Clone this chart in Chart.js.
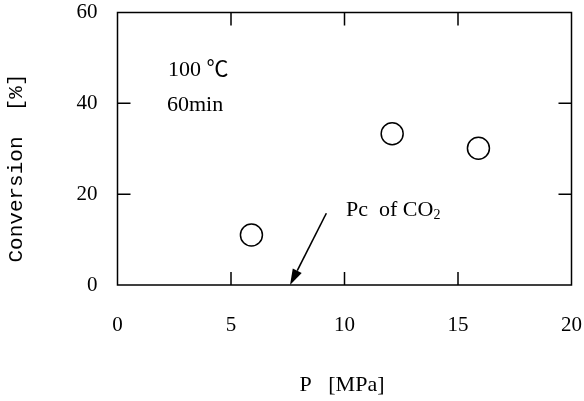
<!DOCTYPE html>
<html>
<head>
<meta charset="utf-8">
<script src="https://cdn.jsdelivr.net/npm/chart.js@4.4.0/dist/chart.umd.min.js"></script>
<style>
  html, body { margin: 0; padding: 0; background: #fff; }
  #wrap { width: 584px; height: 401px; }
</style>
</head>
<body>
<div id="wrap"><canvas id="c" width="584" height="401"></canvas></div>
<script>
// ---- data ----
const pressureMPa = [5.9, 12.1, 15.9];
const conversionPct = [11.0, 33.3, 30.1];
const xTickValues = [0, 5, 10, 15, 20];
const yTickValues = [0, 20, 40, 60];
const xLabel = 'P   [MPa]';
const yLabel = 'Conversion  [%]';
const conditionText = ['100 ℃', '60min'];
const pcLabel = 'Pc  of CO';
const pcCO2 = 7.6;          // arrow tip (MPa), on x axis
const pcArrowTail = [9.2, 15.8];

const BLACK = '#000';
const SERIF = '"Liberation Serif", "Times New Roman", "Noto Sans CJK JP", serif';

const decor = {
  id: 'decor',
  afterDraw(chart) {
    const ctx = chart.ctx;
    const a = chart.chartArea;
    const xs = chart.scales.x, ys = chart.scales.y;
    ctx.save();
    ctx.strokeStyle = BLACK;
    ctx.fillStyle = BLACK;
    ctx.lineWidth = 1.5;
    // frame
    ctx.strokeRect(a.left, a.top, a.right - a.left, a.bottom - a.top);
    // inward ticks
    const tl = 13;
    ctx.beginPath();
    xTickValues.slice(1, -1).forEach(v => {
      const px = xs.getPixelForValue(v);
      ctx.moveTo(px, a.bottom); ctx.lineTo(px, a.bottom - tl);
      ctx.moveTo(px, a.top); ctx.lineTo(px, a.top + tl);
    });
    yTickValues.slice(1, -1).forEach(v => {
      const py = ys.getPixelForValue(v);
      ctx.moveTo(a.left, py); ctx.lineTo(a.left + tl, py);
      ctx.moveTo(a.right, py); ctx.lineTo(a.right - tl, py);
    });
    ctx.stroke();

    // condition text
    ctx.font = '22px ' + SERIF;
    ctx.textAlign = 'left';
    ctx.textBaseline = 'middle';
    ctx.fillText(conditionText[0], 168, 70);
    ctx.fillText(conditionText[1], 167, 105);

    // Pc of CO2 label
    ctx.font = '22px ' + SERIF;
    ctx.fillText(pcLabel, 346, 210);
    const w = ctx.measureText(pcLabel).width;
    ctx.font = '14px ' + SERIF;
    ctx.fillText('2', 346 + w, 215);

    // arrow
    const x1 = xs.getPixelForValue(pcArrowTail[0]), y1 = ys.getPixelForValue(pcArrowTail[1]);
    const x2 = xs.getPixelForValue(pcCO2), y2 = ys.getPixelForValue(0);
    const ang = Math.atan2(y2 - y1, x2 - x1);
    const hl = 16, hw = 5;
    const bx = x2 - hl * Math.cos(ang), by = y2 - hl * Math.sin(ang);
    ctx.lineWidth = 1.6;
    ctx.beginPath();
    ctx.moveTo(x1, y1); ctx.lineTo(bx, by); ctx.stroke();
    ctx.beginPath();
    ctx.moveTo(x2, y2);
    ctx.lineTo(bx + hw * Math.sin(ang), by - hw * Math.cos(ang));
    ctx.lineTo(bx - hw * Math.sin(ang), by + hw * Math.cos(ang));
    ctx.closePath();
    ctx.fill();

    // axis titles
    ctx.font = '22px ' + SERIF;
    ctx.textAlign = 'center';
    ctx.textBaseline = 'middle';
    ctx.fillText(xLabel, 342, 385);
    ctx.save();
    ctx.translate(16, 168);
    ctx.rotate(-Math.PI / 2);
    ctx.font = '21px "Liberation Mono", "Courier New", monospace';
    ctx.fillText(yLabel, 0, 0);
    ctx.restore();
    ctx.restore();
  }
};

new Chart(document.getElementById('c'), {
  type: 'scatter',
  data: {
    datasets: [{
      data: pressureMPa.map((x, i) => ({ x, y: conversionPct[i] })),
      pointStyle: 'circle',
      pointRadius: 11,
      pointHoverRadius: 11,
      pointBorderWidth: 1.5,
      pointBorderColor: BLACK,
      pointBackgroundColor: 'rgba(0,0,0,0)'
    }]
  },
  options: {
    responsive: false,
    animation: false,
    devicePixelRatio: 1,
    layout: { padding: { top: 12, right: 11, left: 0, bottom: 0 } },
    plugins: { legend: { display: false }, tooltip: { enabled: false } },
    scales: {
      x: {
        type: 'linear', min: 0, max: 20,
        afterBuildTicks: s => { s.ticks = xTickValues.map(v => ({ value: v })); },
        afterFit: s => { s.height = 116; s.paddingLeft = 0; s.paddingRight = 0; },
        grid: { display: false, drawTicks: false },
        border: { display: false },
        ticks: { color: BLACK, padding: 28, maxRotation: 0, font: { family: SERIF, size: 21 } }
      },
      y: {
        type: 'linear', min: 0, max: 60,
        afterBuildTicks: s => { s.ticks = yTickValues.map(v => ({ value: v })); },
        afterFit: s => { s.width = 117.5; s.paddingTop = 0; s.paddingBottom = 0; },
        grid: { display: false, drawTicks: false },
        border: { display: false },
        ticks: { color: BLACK, padding: 20, font: { family: SERIF, size: 21 } }
      }
    }
  },
  plugins: [decor]
});
</script>
</body>
</html>
